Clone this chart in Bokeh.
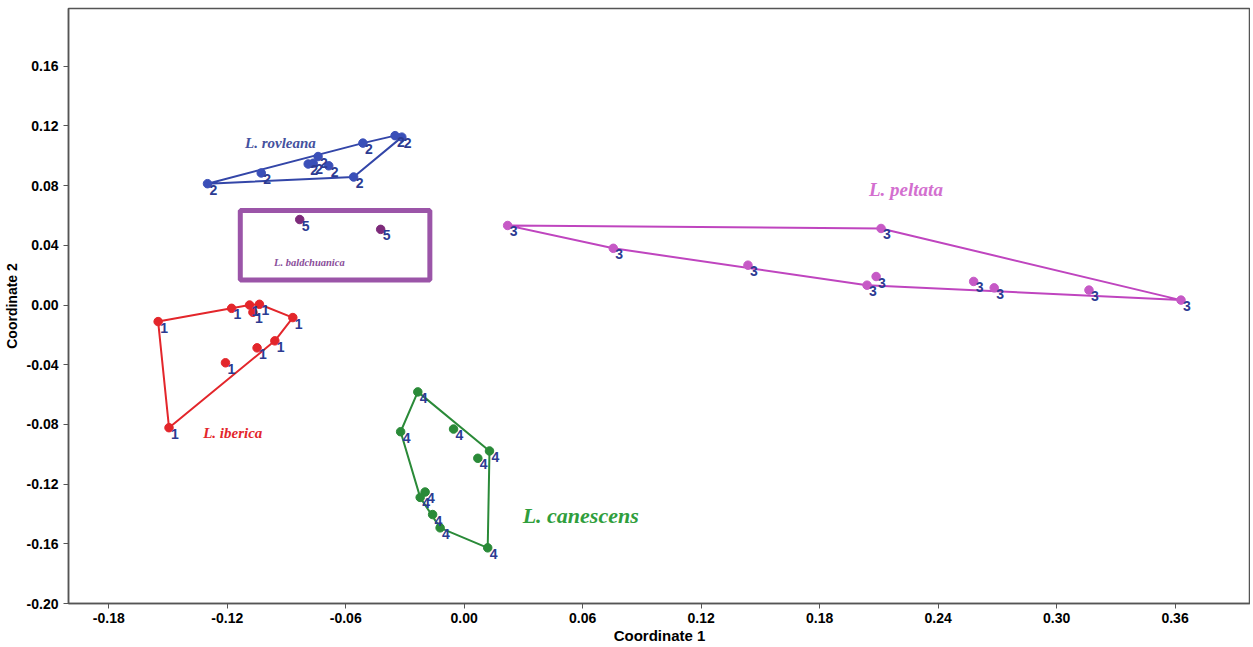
from bokeh.plotting import figure
from bokeh.models import Range1d, FixedTicker, ColumnDataSource
from bokeh.core.properties import value
from bokeh.embed import file_html
from bokeh.resources import INLINE

# ---- data ----
g1_x = [-0.155, -0.1178, -0.1087, -0.1037, -0.107, -0.0868, -0.0959, -0.1049, -0.1209, -0.1495]
g1_y = [-0.0111, -0.0022, 0.0000, 0.0005, -0.0049, -0.0084, -0.0240, -0.0287, -0.0387, -0.0822]

g2_x = [-0.130, -0.1028, -0.074, -0.079, -0.0765, -0.0686, -0.056, -0.0513, -0.035, -0.0316]
g2_y = [0.0813, 0.0885, 0.0995, 0.0945, 0.0950, 0.0933, 0.0858, 0.1085, 0.1135, 0.1125]

g3_x = [0.022, 0.0755, 0.1437, 0.204, 0.2086, 0.2111, 0.258, 0.2684, 0.3164, 0.3630]
g3_y = [0.0533, 0.0380, 0.0267, 0.0133, 0.0191, 0.0513, 0.0158, 0.0115, 0.0100, 0.0033]

g4_x = [-0.0235, -0.0322, -0.0054, 0.0128, 0.0069, -0.0198, -0.0223, -0.0160, -0.0122, 0.0119]
g4_y = [-0.0582, -0.0849, -0.0831, -0.0978, -0.1027, -0.1253, -0.1289, -0.1404, -0.1493, -0.1627]

g5_x = [-0.0833, -0.0423]
g5_y = [0.0573, 0.0507]

group_ids = ["1", "2", "3", "4", "5"]
species = ["L. iberica", "L. rovleana", "L. peltata", "L. canescens", "L. baldchuanica"]

box5 = dict(left=-0.1134, right=-0.0174, top=0.0633, bottom=0.0167)

x_ticks = [-0.18, -0.12, -0.06, 0.00, 0.06, 0.12, 0.18, 0.24, 0.30, 0.36]
y_ticks = [-0.20, -0.16, -0.12, -0.08, -0.04, 0.00, 0.04, 0.08, 0.12, 0.16]


def hull(xs, ys):
    pts = sorted(set(zip(xs, ys)))
    def cross(o, a, b):
        return (a[0]-o[0])*(b[1]-o[1]) - (a[1]-o[1])*(b[0]-o[0])
    lower, upper = [], []
    for p in pts:
        while len(lower) >= 2 and cross(lower[-2], lower[-1], p) <= 0:
            lower.pop()
        lower.append(p)
    for p in reversed(pts):
        while len(upper) >= 2 and cross(upper[-2], upper[-1], p) <= 0:
            upper.pop()
        upper.append(p)
    h = lower[:-1] + upper[:-1]
    h.append(h[0])
    return [q[0] for q in h], [q[1] for q in h]


p = figure(width=1250, height=646, output_backend="svg", toolbar_location=None,
           x_range=Range1d(-0.2004, 0.3982), y_range=Range1d(-0.2, 0.1987),
           min_border_left=66, min_border_right=0, min_border_top=8, min_border_bottom=38)
p.grid.visible = False
p.outline_line_color = "#555555"
p.outline_line_width = 1.5
p.background_fill_color = "white"

for ax in (p.xaxis, p.yaxis):
    ax.axis_line_color = "#555555"
    ax.axis_line_width = 1.5
    ax.major_tick_line_color = "#555555"
    ax.major_tick_out = 5
    ax.major_tick_in = 0
    ax.minor_tick_line_color = None
    ax.major_label_text_font = "Liberation Sans"
    ax.major_label_text_font_style = "bold"
    ax.major_label_text_font_size = "14px"
    ax.major_label_text_color = "black"
    ax.axis_label_text_font = "Liberation Sans"
    ax.axis_label_text_font_style = "bold"
    ax.axis_label_text_color = "black"

p.xaxis.axis_label_text_font_size = "15px"
p.yaxis.axis_label_text_font_size = "14px"
p.xaxis.major_label_standoff = 4
p.xaxis.ticker = FixedTicker(ticks=x_ticks)
p.yaxis.ticker = FixedTicker(ticks=y_ticks)
p.xaxis.major_label_overrides = {t: f"{t:.2f}" for t in x_ticks}
p.yaxis.major_label_overrides = {t: f"{t:.2f}" for t in y_ticks}
p.xaxis.axis_label = "Coordinate 1"
p.yaxis.axis_label = "Coordinate 2"
p.xaxis.axis_label_standoff = 1
p.yaxis.axis_label_standoff = 4

groups = [
    (g1_x, g1_y, "#e3262b", "#e3262b"),
    (g2_x, g2_y, "#3346a8", "#3a4fb8"),
    (g3_x, g3_y, "#bf45bf", "#c659c6"),
    (g4_x, g4_y, "#2a8a38", "#2a8a38"),
]
for gid, (xs, ys, lc, pc) in zip(group_ids[:4], groups):
    hx, hy = hull(xs, ys)
    p.line(hx, hy, line_color=lc, line_width=2)

# box around group 5
p.quad(left=[box5["left"]], right=[box5["right"]], top=[box5["top"]], bottom=[box5["bottom"]],
       fill_color=None, line_color="#9b55a8", line_width=5)

all_groups = groups + [(g5_x, g5_y, "#7d2a7a", "#7d2a7a")]
for gid, (xs, ys, lc, pc) in zip(group_ids, all_groups):
    p.scatter(xs, ys, size=8.5, fill_color=pc, line_color=pc)
    src = ColumnDataSource(dict(x=xs, y=ys, t=[gid]*len(xs)))
    p.text(x="x", y="y", text="t", source=src, text_font=value("Liberation Sans"),
           text_font_style="bold", text_font_size="14px", text_color="#2c3b92",
           text_align="left", text_baseline="top", x_offset=2, y_offset=1)

# species labels
lab_x = [-0.1322, -0.111, 0.205, 0.0296, -0.0963]
lab_y = [-0.0860, 0.1087, 0.0773, -0.1407, 0.0287]
lab_c = ["#e3262b", "#45519e", "#d36fcf", "#2f9e3c", "#8a4d9a"]
lab_s = ["15px", "15px", "19px", "22px", "10.5px"]
for t, x, y, c, s in zip(species, lab_x, lab_y, lab_c, lab_s):
    p.text(x=[x], y=[y], text=[t], text_font=value("Liberation Serif"),
           text_font_style="bold italic", text_font_size=s, text_color=c,
           text_align="left", text_baseline="middle")

open("out.html", "w").write(file_html(p, INLINE))
